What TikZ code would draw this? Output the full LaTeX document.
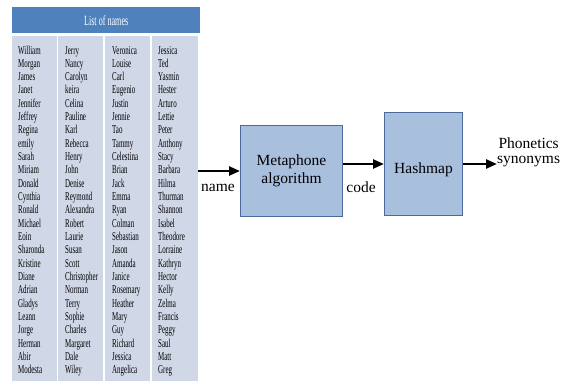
\documentclass[tikz,border=0pt]{standalone}
\usepackage{fontspec}
\setmainfont{Liberation Serif}
\newfontfamily\serf{Liberation Serif}
\newfontfamily\condfont[FakeStretch=0.58]{Liberation Serif}
\usetikzlibrary{arrows.meta}
\definecolor{hdr}{RGB}{79,129,189}
\definecolor{bodyc}{RGB}{208,216,232}
\definecolor{boxfill}{RGB}{168,192,222}
\definecolor{boxdraw}{RGB}{75,105,155}
\begin{document}
\begin{tikzpicture}[x=1pt,y=-1pt,
  namestyle/.style={anchor=base west, inner sep=0pt, font=\condfont\fontsize{12}{13}\selectfont},
  proc/.style={fill=boxfill, draw=boxdraw, line width=1pt, inner sep=0pt, align=center,
    font=\serf\fontsize{15.5}{18}\selectfont},
  lbl/.style={inner sep=0pt, align=center, font=\serf\fontsize{15.5}{15}\selectfont},
  arr/.style={line width=2.4pt, -{Triangle[length=11pt,width=9pt]}}]
\useasboundingbox (0,0) rectangle (566,383);
% table
\node[fill=hdr, minimum width=188pt, minimum height=26pt, anchor=north west, inner sep=0pt,
  text=white, font=\condfont\fontsize{14}{15}\selectfont] (title) at (12,7) {List of names};
\node[fill=bodyc, minimum width=186pt, minimum height=345pt, anchor=north west, inner sep=0pt] (list) at (12,36) {};
\foreach \x in {57.5,104,151} \draw[white, line width=1.8pt] (\x,36) -- (\x,381);
\foreach \n [count=\i from 0] in {William,Morgan,James,Janet,Jennifer,Jeffrey,Regina,emily,Sarah,Miriam,Donald,Cynthia,Ronald,Michael,Eoin,Sharonda,Kristine,Diane,Adrian,Gladys,Leann,Jorge,Herman,Abir,Modesta}
  \node[namestyle] (a\i) at (18,54+13.33*\i) {\n};
\foreach \n [count=\i from 0] in {Jerry,Nancy,Carolyn,keira,Celina,Pauline,Karl,Rebecca,Henry,John,Denise,Reymond,Alexandra,Robert,Laurie,Susan,Scott,Christopher,Norman,Terry,Sophie,Charles,Margaret,Dale,Wiley}
  \node[namestyle] (b\i) at (65,54+13.33*\i) {\n};
\foreach \n [count=\i from 0] in {Veronica,Louise,Carl,Eugenio,Justin,Jennie,Tao,Tammy,Celestina,Brian,Jack,Emma,Ryan,Colman,Sebastian,Jason,Amanda,Janice,Rosemary,Heather,Mary,Guy,Richard,Jessica,Angelica}
  \node[namestyle] (c\i) at (112,54+13.33*\i) {\n};
\foreach \n [count=\i from 0] in {Jessica,Ted,Yasmin,Hester,Arturo,Lettie,Peter,Anthony,Stacy,Barbara,Hilma,Thurman,Shannon,Isabel,Theodore,Lorraine,Kathryn,Hector,Kelly,Zelma,Francis,Peggy,Saul,Matt,Greg}
  \node[namestyle] (d\i) at (158,54+13.33*\i) {\n};
% process boxes
\node[proc, minimum width=102pt, minimum height=91pt, anchor=north west] (meta) at (240,125) {Metaphone\\algorithm};
\node[proc, minimum width=78pt, minimum height=103pt, anchor=north west] (hash) at (384,112) {};
\node[lbl] (hashtxt) at ([yshift=-6pt]hash.center) {Hashmap};
\coordinate (outpt) at ([xshift=34pt]hash.east);
% connectors
\draw[arr] (list.east |- meta.west) -- (meta.west);
\draw[arr] (meta.east |- hash.west) -- (hash.west);
\draw[arr] (hash.east) -- (outpt);
% labels
\node[lbl] (namelbl) at (218,188) {name};
\node[lbl] (codelbl) at (361,187) {code};
\node[lbl, anchor=west] (outlbl) at (497,152) {Phonetics\\synonyms};
\end{tikzpicture}
\end{document}
